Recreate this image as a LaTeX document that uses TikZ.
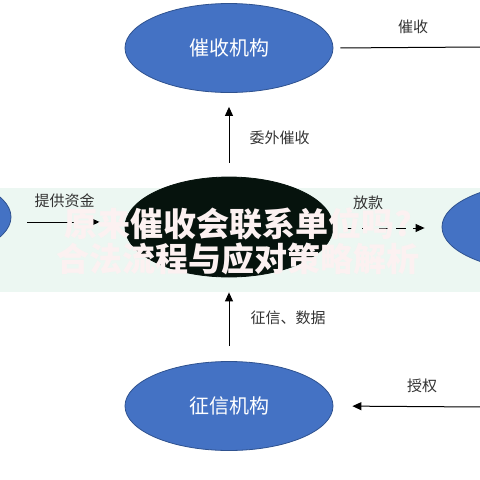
\documentclass[tikz,border=0pt]{standalone}
\usepackage{fontspec}
\usepackage{xcolor}
\newfontfamily\cjk{Noto Sans CJK SC}
\usetikzlibrary{shapes.geometric,positioning,arrows.meta,calc}
\definecolor{OrgBlue}{HTML}{4472C4}
\definecolor{OrgEdge}{HTML}{2F528F}
\definecolor{LenderDark}{HTML}{06130D}
\definecolor{BandMint}{HTML}{ECF7F2}
\definecolor{TitlePink}{HTML}{FCF1F1}

\begin{document}
\begin{tikzpicture}[x=1pt,y=-1pt,
  org/.style={ellipse, draw=OrgEdge, fill=OrgBlue, line width=0.8pt,
    minimum width=208pt, minimum height=89pt, inner sep=0pt,
    font=\cjk\fontsize{20}{24}\selectfont, text=white},
  flow/.style={-{Triangle[length=9pt,width=8pt]}, line width=1pt},
  lbl/.style={font=\cjk\fontsize{15}{18}\selectfont, text=black!80}]
\useasboundingbox (0,0) rectangle (480,480);
\clip (0,0) rectangle (480,480);

% Light band behind the middle row
\fill[BandMint] (0,188) rectangle (480,292);

% Institutions
\node[org] (collect) at (229,48) {催收机构};
\node[org] (credit) at (229,406) {征信机构};
\node[org, fill=LenderDark, draw=LenderDark, minimum height=100pt] (lender) at (229,227) {};
\node[org] (funder) at (-93,217) {};
\node[org] (borrower) at (546,227) {};

% Free ends at the right border
\coordinate (collectout) at (482,47);
\coordinate (creditin) at (482,407);

% Flows
\draw[flow, shorten <=14pt, shorten >=14pt] (lender.north) -- (collect.south);
\draw[flow, shorten <=15pt, shorten >=15pt] (credit.north) -- (lender.south);
\draw[flow] ($(funder.east)+(16,5)$) -- ($(lender.west)+(-25,-5)$);
\draw[flow, dash pattern=on 10pt off 7pt] ($(lender.east)+(12,1)$) -- ($(borrower.west)+(-17,1)$);
\draw[line width=1pt, shorten <=7pt] (collect.east) -- (collectout);
\draw[flow, shorten >=19pt] (creditin) -- (credit.east);

% Flow labels
\node[lbl] (lcollect) at (413,27) {催收};
\node[lbl, anchor=west] (loutsource) at (246,138) {委外催收};
\node[lbl, anchor=west] (ldata) at (247,318) {征信、数据};
\node[lbl] (lauth) at (422,386) {授权};
\node[lbl, anchor=west] (lfund) at (31,201) {提供资金};
\node[lbl] (lloan) at (368,203) {放款};

% Title laid over the band
\node[font=\cjk\bfseries\fontsize{33}{35}\selectfont, text=TitlePink, align=center]
  (title) at (238,241) {原来催收会联系单位吗?\\合法流程与应对策略解析};
\end{tikzpicture}
\end{document}
